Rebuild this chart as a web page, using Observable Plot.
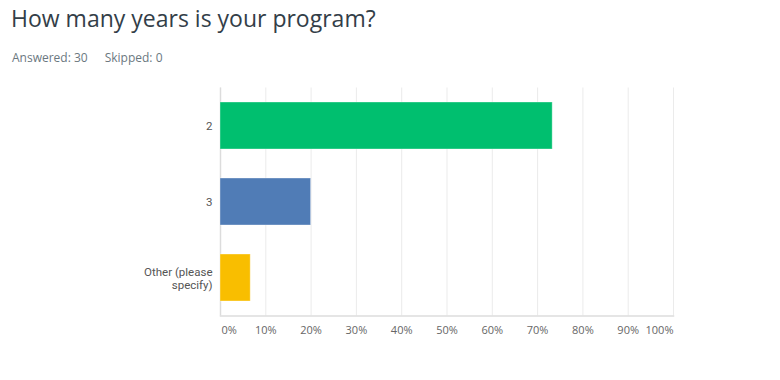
<!DOCTYPE html>
<html>
<head>
<meta charset="utf-8">
<script src="https://cdn.jsdelivr.net/npm/d3@7"></script>
<script src="https://cdn.jsdelivr.net/npm/@observablehq/plot@0.6"></script>
<style>
  html, body { margin: 0; padding: 0; background: #fff; }
  body { width: 780px; height: 380px; position: relative; overflow: hidden; font-family: "Open Sans", sans-serif; }
  #title { position: absolute; left: 11px; top: 2px; font-size: 23px; color: #333e48; font-weight: 400; white-space: nowrap; }
  #sub { position: absolute; left: 12px; top: 49px; font-size: 12px; color: #6b787f; white-space: nowrap; }
  #sub span + span { margin-left: 17px; }
  #chart { position: absolute; left: 0; top: 80px; }
</style>
</head>
<body>
<div id="title">How many years is your program?</div>
<div id="sub"><span>Answered: 30</span><span>Skipped: 0</span></div>
<div id="chart"></div>
<script>
const categories = ["2", "3", "Other (please\nspecify)"];
const percents = [73.33, 20.0, 6.67];
const colors = ["#00bf6f", "#507cb6", "#f9be00"];
const xTicks = [0, 10, 20, 30, 40, 50, 60, 70, 80, 90, 100];

const data = categories.map((c, i) => ({category: c, value: percents[i], color: colors[i]}));
const firstTick = xTicks.slice(0, 1);
const midTicks = xTicks.slice(1, -1);
const lastTick = xTicks.slice(-1);

const chart = Plot.plot({
  width: 780,
  height: 300,
  marginTop: 7.5,
  marginBottom: 64.5,
  marginLeft: 220,
  marginRight: 107,
  style: {fontFamily: "'Open Sans', sans-serif", fontSize: "11px", color: "#555"},
  x: {domain: [0, 100], axis: null},
  y: {domain: categories, paddingInner: 0.38, paddingOuter: 0.19, label: null},
  marks: [
    Plot.ruleX(xTicks, {stroke: "#ebebeb", strokeWidth: 1}),
    Plot.ruleX([0], {stroke: "#dcdcdc", strokeWidth: 1.5}),
    Plot.frame({anchor: "bottom", stroke: "#dcdcdc", strokeWidth: 1.5}),
    Plot.barX(data, {x: "value", y: "category", fill: "color", stroke: "#ffffff", strokeOpacity: 0.35, strokeWidth: 1}),
    Plot.axisY({tickSize: 0, tickPadding: 8, label: null, fill: "#555", fontFamily: "Roboto, sans-serif", fontSize: 11.5, lineHeight: 1.17}),
    Plot.text(firstTick, {x: d => d, frameAnchor: "bottom", dy: 18, textAnchor: "start", dx: 1, text: d => d + "%", fill: "#666"}),
    Plot.text(midTicks, {x: d => d, frameAnchor: "bottom", dy: 18, text: d => d + "%", fill: "#666"}),
    Plot.text(lastTick, {x: d => d, frameAnchor: "bottom", dy: 18, textAnchor: "end", text: d => d + "%", fill: "#666"})
  ]
});
document.getElementById("chart").append(chart);
</script>
</body>
</html>
